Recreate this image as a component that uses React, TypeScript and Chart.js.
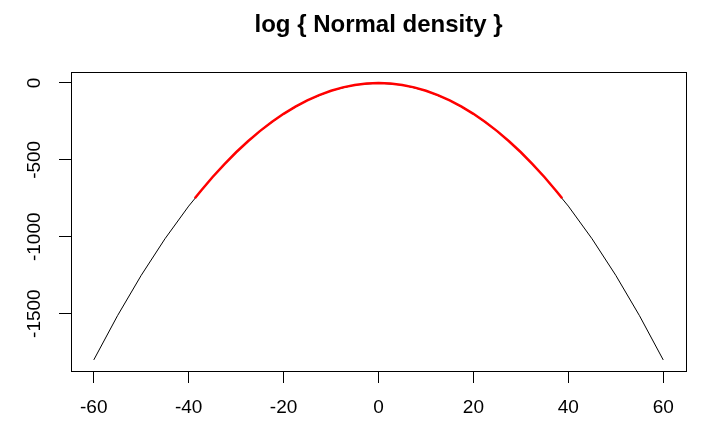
import React, { useEffect, useRef } from "react";
import { Chart, registerables } from "chart.js";

Chart.register(...registerables);

const titleText = "log { Normal density }";

const blackX = [-60, -55, -50, -45, -40, -35, -30, -25, -20, -15, -10, -5, 0, 5, 10, 15, 20, 25, 30, 35, 40, 45, 50, 55, 60];
const blackY = [-1800.9, -1513.4, -1250.9, -1013.4, -800.9, -613.4, -450.9, -313.4, -200.9, -113.4, -50.9, -13.4, -0.9, -13.4, -50.9, -113.4, -200.9, -313.4, -450.9, -613.4, -800.9, -1013.4, -1250.9, -1513.4, -1800.9];

const redX = [-38.7, -37.5, -35, -32.5, -30, -27.5, -25, -22.5, -20, -17.5, -15, -12.5, -10, -7.5, -5, -2.5, 0, 2.5, 5, 7.5, 10, 12.5, 15, 17.5, 20, 22.5, 25, 27.5, 30, 32.5, 35, 37.5, 38.7];
const redY = [-749.8, -704.0, -613.4, -529.0, -450.9, -379.0, -313.4, -254.0, -200.9, -154.0, -113.4, -79.0, -50.9, -29.0, -13.4, -4.0, -0.9, -4.0, -13.4, -29.0, -50.9, -79.0, -113.4, -154.0, -200.9, -254.0, -313.4, -379.0, -450.9, -529.0, -613.4, -704.0, -749.8];

const xTicks = [-60, -40, -20, 0, 20, 40, 60];
const yTicks = [0, -500, -1000, -1500];

const FONT = "'Liberation Sans', Arial, sans-serif";

const boxPlugin = {
  id: "rbox",
  afterDraw(chart: any) {
    const { ctx, chartArea } = chart;
    ctx.save();
    ctx.strokeStyle = "#000";
    ctx.lineWidth = 1;
    ctx.strokeRect(
      Math.round(chartArea.left) + 0.5,
      Math.round(chartArea.top) + 0.5,
      Math.round(chartArea.right - chartArea.left),
      Math.round(chartArea.bottom - chartArea.top)
    );
    ctx.restore();
  },
};

export default function App() {
  const ref = useRef<HTMLCanvasElement | null>(null);

  useEffect(() => {
    if (!ref.current) return;
    const chart = new Chart(ref.current, {
      type: "line",
      data: {
        datasets: [
          {
            label: "red",
            data: redX.map((x, i) => ({ x, y: redY[i] })),
            borderColor: "#ff0000",
            borderWidth: 2.5,
            pointRadius: 0,
            tension: 0,
            order: 0,
          },
          {
            label: "black",
            data: blackX.map((x, i) => ({ x, y: blackY[i] })),
            borderColor: "#000000",
            borderWidth: 1,
            pointRadius: 0,
            tension: 0,
            order: 1,
          },
        ],
      },
      options: {
        animation: false,
        responsive: false,
        events: [],
        layout: { padding: { left: 0, right: 29, top: 0, bottom: 0 } },
        plugins: {
          legend: { display: false },
          tooltip: { enabled: false },
          title: {
            display: true,
            text: titleText,
            fullSize: false,
            color: "#000",
            font: { family: FONT, size: 24, weight: "bold", lineHeight: 1.2 },
            padding: { top: 11, bottom: 32.2 },
          },
        },
        scales: {
          x: {
            type: "linear",
            min: -64.8,
            max: 64.8,
            afterBuildTicks: (scale: any) => {
              scale.ticks = xTicks.map((v) => ({ value: v }));
            },
            afterFit: (scale: any) => {
              scale.height = 53;
            },
            border: { display: false },
            grid: { drawOnChartArea: false, drawTicks: true, tickLength: 12, color: "#000", lineWidth: 1 },
            ticks: {
              color: "#000",
              font: { family: FONT, size: 19 },
              padding: 13,
              maxRotation: 0,
              minRotation: 0,
              autoSkip: false,
              callback: (v: any) => String(v),
            },
          },
          y: {
            type: "linear",
            min: -1873,
            max: 71,
            afterBuildTicks: (scale: any) => {
              scale.ticks = yTicks.map((v) => ({ value: v }));
            },
            afterFit: (scale: any) => {
              scale.width = 71;
            },
            border: { display: false },
            grid: { drawOnChartArea: false, drawTicks: true, tickLength: 12, color: "#000", lineWidth: 1 },
            ticks: {
              color: "#000",
              font: { family: FONT, size: 19 },
              padding: 0,
              minRotation: 90,
              maxRotation: 90,
              crossAlign: "center",
              autoSkip: false,
              callback: (v: any) => String(v),
            },
          },
        },
      },
      plugins: [boxPlugin],
    } as any);
    return () => chart.destroy();
  }, []);

  return (
    <div style={{ position: "fixed", left: 0, top: 0, width: 715, height: 424, background: "#fff" }}>
      <canvas ref={ref} width={715} height={424} style={{ display: "block" }} />
    </div>
  );
}
